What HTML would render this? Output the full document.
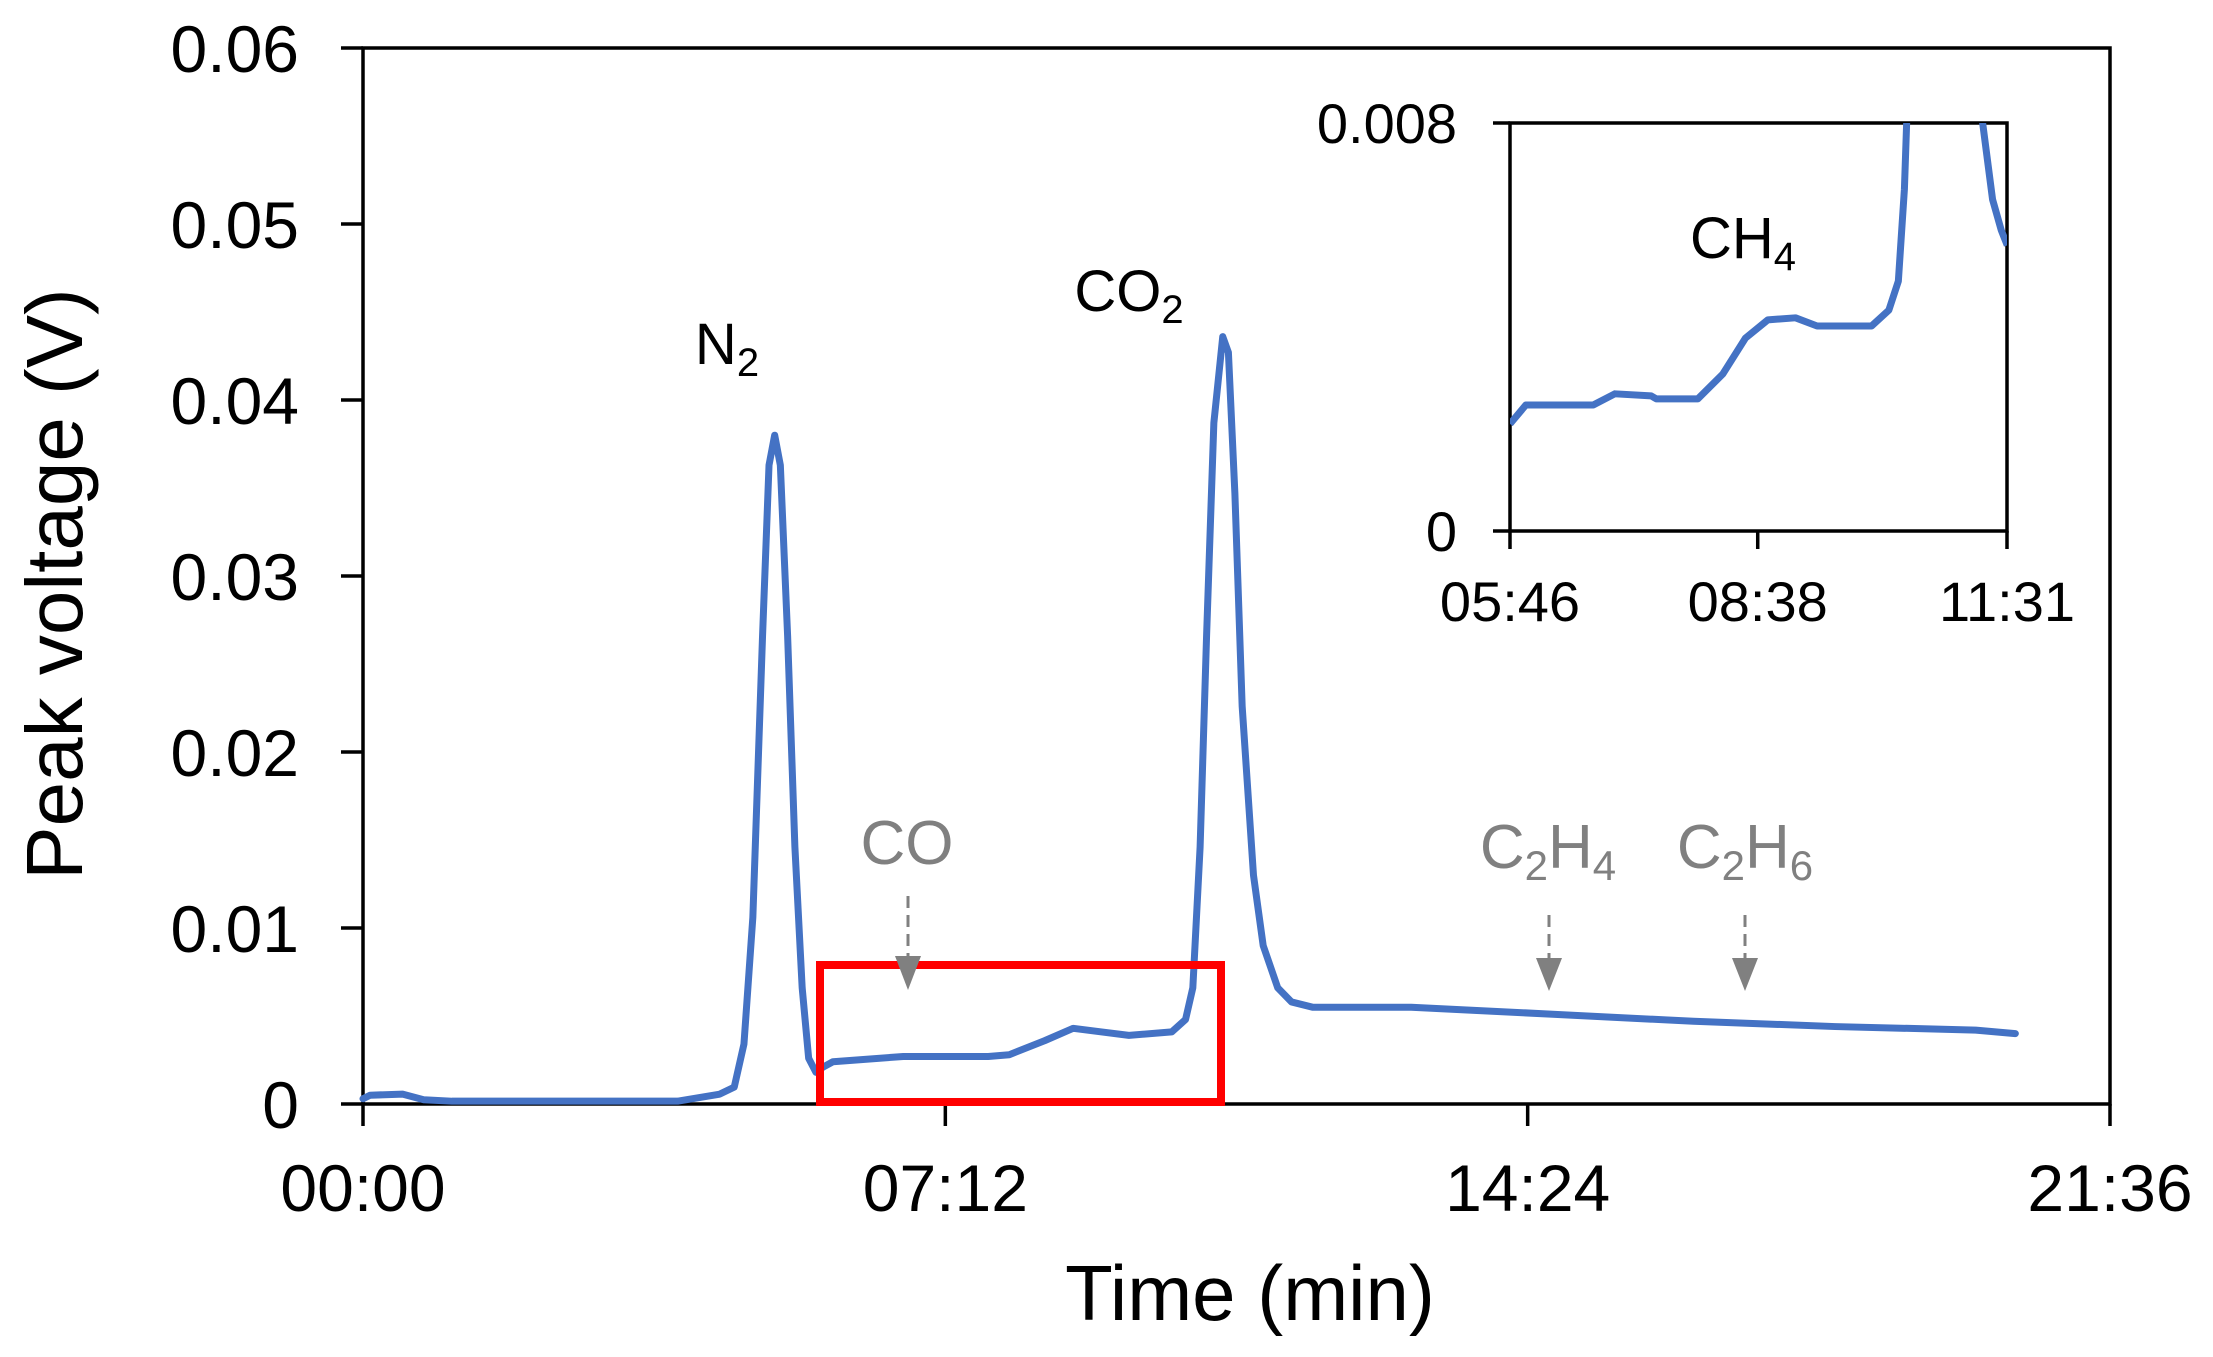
<!DOCTYPE html>
<html><head><meta charset="utf-8"><style>
html,body{margin:0;padding:0;background:#fff}
svg{display:block;font-family:"Liberation Sans",Arial,sans-serif}
</style></head><body>
<svg id="chart" width="2213" height="1357" viewBox="0 0 2213 1357" xmlns="http://www.w3.org/2000/svg">
<defs><clipPath id="insetClip"><rect x="1510" y="123" width="497" height="408"/></clipPath></defs>
<g id="main"></g>
<g id="inset"></g>
<rect x="820" y="965" width="401" height="137" fill="none" stroke="#ff0000" stroke-width="8"/>
<g font-size="58" fill="#000" text-anchor="middle">
<text x="727" y="364">N<tspan font-size="40" dy="12">2</tspan></text>
<text x="1129" y="311">CO<tspan font-size="40" dy="12">2</tspan></text>
<text x="1743" y="258">CH<tspan font-size="40" dy="12">4</tspan></text>
</g>
<g font-size="62" fill="#808080" text-anchor="middle">
<text x="907" y="864">CO</text>
<text x="1548" y="868">C<tspan font-size="42" dy="12">2</tspan><tspan dy="-12">H</tspan><tspan font-size="42" dy="12">4</tspan></text>
<text x="1745" y="868">C<tspan font-size="42" dy="12">2</tspan><tspan dy="-12">H</tspan><tspan font-size="42" dy="12">6</tspan></text>
</g>
<g stroke="#808080" stroke-width="3" fill="#808080">
<line x1="908" y1="896" x2="908" y2="958" stroke-dasharray="12,7"/><path d="M895 956 L921 956 L908 990 Z" stroke="none"/>
<line x1="1549" y1="915" x2="1549" y2="960" stroke-dasharray="12,7"/><path d="M1536 958 L1562 958 L1549 991 Z" stroke="none"/>
<line x1="1745" y1="915" x2="1745" y2="960" stroke-dasharray="12,7"/><path d="M1732 958 L1758 958 L1745 991 Z" stroke="none"/>
</g>
<text transform="translate(82,584) rotate(-90)" text-anchor="middle" font-size="80">Peak voltage (V)</text>
<text x="1250" y="1320" text-anchor="middle" font-size="78">Time (min)</text>
</svg>
<script>
const mainTimes=[0,0.087,0.49,0.75,1.10,3.89,4.41,4.59,4.71,4.82,4.94,5.02,5.09,5.16,5.25,5.34,5.43,5.51,5.60,5.69,5.81,6.68,7.73,7.99,8.43,8.78,9.12,9.47,10.00,10.17,10.26,10.35,10.43,10.52,10.63,10.70,10.78,10.87,11.01,11.13,11.31,11.48,11.74,12.96,14.71,16.45,18.20,19.94,20.43];
const mainValues=[0.0003,0.0005,0.00056,0.00024,0.00016,0.00016,0.00056,0.00096,0.0034,0.0106,0.0266,0.0363,0.0380,0.0363,0.0266,0.0146,0.0066,0.0026,0.0018,0.0021,0.0024,0.0027,0.0027,0.0028,0.0036,0.0043,0.0041,0.0039,0.0041,0.0048,0.0066,0.0146,0.0266,0.0387,0.0436,0.0427,0.0347,0.0226,0.0130,0.0090,0.0066,0.0058,0.0055,0.0055,0.0051,0.0047,0.0044,0.0042,0.0040];
const mainYTicks=[0,0.01,0.02,0.03,0.04,0.05,0.06];
const mainYTickLabels=["0","0.01","0.02","0.03","0.04","0.05","0.06"];
const mainXTicks=[0,7.2,14.4,21.6];
const mainXTickLabels=["00:00","07:12","14:24","21:36"];
const insetTimes=[5.767,5.95,6.73,6.98,7.40,7.46,7.94,8.23,8.49,8.75,9.07,9.32,9.95,10.15,10.26,10.33,10.36,10.5,11.1,11.22,11.35,11.45,11.52];
const insetValues=[0.0021,0.00247,0.00247,0.00269,0.00265,0.00259,0.00259,0.00308,0.00378,0.00414,0.00418,0.00402,0.00402,0.00433,0.0049,0.0067,0.0082,0.02,0.02,0.0082,0.0065,0.0059,0.0056];
const insetYTicks=[0,0.008];
const insetYTickLabels=["0","0.008"];
const insetXTicks=[5.767,8.633,11.517];
const insetXTickLabels=["05:46","08:38","11:31"];

const NS="http://www.w3.org/2000/svg";
function mk(tag,attrs,parent){const e=document.createElementNS(NS,tag);for(const k in attrs)e.setAttribute(k,attrs[k]);parent.appendChild(e);return e;}
const M={l:363,r:2110,t:48,b:1104,xmax:21.6,ymax:0.06};
const xs=t=>M.l+t/M.xmax*(M.r-M.l);
const ys=v=>M.b-v/M.ymax*(M.b-M.t);
const I={l:1510,r:2007,t:123,b:531,xmin:5.767,xmax:11.517,ymax:0.008};
const xi=t=>I.l+(t-I.xmin)/(I.xmax-I.xmin)*(I.r-I.l);
const yi=v=>I.b-v/I.ymax*(I.b-I.t);

const g=document.getElementById('main');
const frame=mk('rect',{x:M.l,y:M.t,width:M.r-M.l,height:M.b-M.t,fill:'none',stroke:'#000','stroke-width':3.5},g);


mainYTicks.forEach((v,i)=>{
  const tk=mk('line',{x1:M.l-22,x2:M.l,y1:ys(v),y2:ys(v),stroke:'#000','stroke-width':3.5},g);
  
  
  const tx=mk('text',{x:299,y:ys(v)+24,'text-anchor':'end','font-size':66},g);
  
  
  tx.textContent=mainYTickLabels[i];
});
mainXTicks.forEach((t,i)=>{
  const tk=mk('line',{x1:xs(t),x2:xs(t),y1:M.b,y2:M.b+22,stroke:'#000','stroke-width':3.5},g);
  
  
  const tx=mk('text',{x:xs(t),y:1211,'text-anchor':'middle','font-size':66},g);
  
  
  tx.textContent=mainXTickLabels[i];
});
const line=mk('polyline',{points:mainTimes.map((t,i)=>xs(t)+','+ys(mainValues[i])).join(' '),fill:'none',stroke:'#4472C4','stroke-width':7,'stroke-linejoin':'round','stroke-linecap':'round'},g);



const gi=document.getElementById('inset');
const bg=mk('rect',{x:I.l,y:I.t,width:I.r-I.l,height:I.b-I.t,fill:'#fff',stroke:'#000','stroke-width':3.5},gi);


insetYTicks.forEach((v,i)=>{
  const tk=mk('line',{x1:I.l-17,x2:I.l,y1:yi(v),y2:yi(v),stroke:'#000','stroke-width':3.5},gi);
  
  
  const tx=mk('text',{x:1457,y:yi(v)+20,'text-anchor':'end','font-size':56},gi);
  
  
  tx.textContent=insetYTickLabels[i];
});
insetXTicks.forEach((t,i)=>{
  const tk=mk('line',{x1:xi(t),x2:xi(t),y1:I.b,y2:I.b+18,stroke:'#000','stroke-width':3.5},gi);
  
  
  const tx=mk('text',{x:xi(t),y:621,'text-anchor':'middle','font-size':56},gi);
  
  
  tx.textContent=insetXTickLabels[i];
});
const il=mk('polyline',{points:insetTimes.map((t,i)=>xi(t)+','+yi(insetValues[i])).join(' '),fill:'none',stroke:'#4472C4','stroke-width':7,'stroke-linejoin':'round','clip-path':'url(#insetClip)'},gi);


</script>
</body></html>
